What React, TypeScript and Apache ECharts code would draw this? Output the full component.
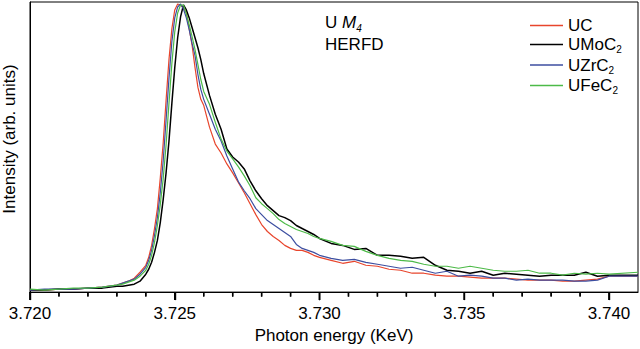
import React, { useEffect, useRef } from "react";
import * as echarts from "echarts";

// Photon energy grid (keV)
const energy = [
  3.72, 3.7205, 3.721, 3.7215, 3.722, 3.7225, 3.723, 3.7232, 3.7234, 3.7236, 3.7238,
  3.724, 3.7241, 3.7242, 3.7243, 3.7244, 3.7245, 3.7246, 3.7247, 3.7248, 3.7249, 3.725,
  3.7251, 3.7252, 3.7253, 3.7254, 3.7255, 3.7256, 3.7257, 3.7258, 3.7259, 3.726,
  3.7262, 3.7264, 3.7266, 3.7268, 3.727, 3.7272, 3.7274, 3.7276, 3.7278, 3.728,
  3.7282, 3.7284, 3.7286, 3.7288, 3.729, 3.7292, 3.7294, 3.7296, 3.7298, 3.73,
  3.7304, 3.7308, 3.7312, 3.7316, 3.732, 3.7324, 3.7328, 3.7332, 3.7336, 3.734,
  3.7344, 3.7348, 3.7352, 3.7356, 3.736, 3.7364, 3.7368, 3.7372, 3.7376, 3.738,
  3.7384, 3.7388, 3.7392, 3.7396, 3.74, 3.741,
];

// Intensities (arb. units)
const uc = [
  2, 2, 3, 3, 4, 5, 7, 9, 11, 14, 20,
  27, 35, 47, 64, 84, 115, 150, 193, 234, 265, 284,
  290, 289, 286, 281, 265, 248, 226, 206, 194, 188,
  166, 149, 140, 129, 120, 110, 100, 89, 78, 68,
  61, 56, 52, 47, 44, 42, 42, 40, 37, 35,
  32, 29, 31, 27, 26, 23, 22, 19, 19, 17,
  16, 16, 15, 14, 14, 14, 13, 12, 12, 12,
  11, 11, 12, 13, 16, 16,
];
const umoc2 = [
  2, 2, 3, 3, 4, 4, 6, 6, 7, 8, 11,
  18, 23, 30, 40, 52, 70, 93, 120, 152, 190, 226,
  256, 277, 289, 284, 276, 266, 256, 246, 234, 220,
  198, 179, 164, 144, 136, 131, 124, 112, 102, 94,
  87, 82, 77, 75, 72, 67, 64, 61, 58, 54,
  49, 47, 43, 44, 37, 37, 36, 34, 35, 27,
  22, 21, 19, 21, 17, 19, 18, 17, 16, 17,
  17, 17, 20, 16, 17, 17,
];
const uzrc2 = [
  2, 3, 3, 3, 4, 5, 7, 9, 11, 13, 18,
  25, 32, 42, 57, 75, 100, 132, 173, 215, 252, 276,
  287, 290, 285, 276, 264, 250, 238, 219, 204, 194,
  179, 164, 152, 137, 124, 111, 102, 94, 84, 78,
  72, 68, 64, 60, 56, 48, 44, 42, 40, 37,
  34, 32, 33, 30, 28, 26, 24, 25, 22, 19,
  21, 16, 17, 16, 14, 14, 12, 13, 12, 12,
  12, 11, 11, 12, 16, 16,
];
const ufec2 = [
  3, 2, 3, 4, 4, 5, 7, 8, 10, 12, 16,
  22, 28, 37, 50, 67, 88, 114, 148, 190, 230, 262,
  281, 289, 289, 280, 269, 257, 244, 229, 214, 202,
  189, 171, 154, 142, 134, 126, 117, 107, 95, 89,
  84, 79, 73, 69, 66, 63, 61, 59, 56, 54,
  51, 47, 46, 41, 37, 34, 32, 31, 28, 26,
  26, 24, 26, 24, 22, 21, 21, 22, 19, 19,
  17, 19, 18, 19, 18, 20,
];

const seriesNames = ["UC", "UMoC2", "UZrC2", "UFeC2"];
const seriesColors = ["#e8452c", "#000000", "#3c4ea0", "#4dba48"];
const seriesValues = [uc, umoc2, uzrc2, ufec2];

// x-axis tick positions (keV): every 0.001, labelled every 0.005
const tickValues = [
  3.72, 3.721, 3.722, 3.723, 3.724, 3.725, 3.726, 3.727, 3.728, 3.729, 3.73,
  3.731, 3.732, 3.733, 3.734, 3.735, 3.736, 3.737, 3.738, 3.739, 3.74,
];
const majorTicks = [3.72, 3.725, 3.73, 3.735, 3.74];

const FONT = "'Liberation Sans', Arial, Helvetica, sans-serif";

const isMajor = (v: number) => majorTicks.some((m) => Math.abs(m - v) < 1e-9);

export default function App() {
  const ref = useRef<HTMLDivElement>(null);
  useEffect(() => {
    if (!ref.current) return;
    const chart = echarts.init(ref.current, null, { renderer: "svg" });
    const rich = {
      b: { fontSize: 17, fontFamily: FONT, color: "#000", lineHeight: 20 },
      s: { fontSize: 10, fontFamily: FONT, color: "#000", lineHeight: 8, verticalAlign: "bottom" },
    };
    const textGraphics: any[] = [
      {
        type: "text",
        id: "ytitle",
        x: 9,
        y: 139,
        rotation: Math.PI / 2,
        style: {
          text: "Intensity (arb. units)",
          fontSize: 17,
          fontFamily: FONT,
          fill: "#000",
          align: "center",
          verticalAlign: "middle",
        },
      },
      {
        type: "text",
        id: "edge",
        left: 325,
        top: 14,
        style: {
          text: "{n|U }{i|M}{s|4}\n{n|HERFD}",
          rich: {
            n: { fontSize: 17, fontFamily: FONT, fill: "#000", lineHeight: 22 },
            i: { fontSize: 17, fontFamily: FONT, fontStyle: "italic", fill: "#000", lineHeight: 22 },
            s: { fontSize: 10, fontFamily: FONT, fontStyle: "italic", fill: "#000", lineHeight: 8, verticalAlign: "bottom" },
          },
        },
      },
    ];
    const tickSeries = {
      type: "custom",
      clip: false,
      z: 100,
      data: tickValues.map((v) => [v, isMajor(v) ? 1 : 0]),
      renderItem: (params: any, api: any) => {
        const p = api.coord([api.value(0), 0]);
        const len = api.value(1) ? 8 : 4.5;
        return {
          type: "line",
          shape: { x1: p[0], y1: p[1], x2: p[0], y2: p[1] + len },
          style: { stroke: "#000", lineWidth: 1.4 },
        };
      },
    };
    chart.setOption({
      animation: false,
      grid: {
        left: 30,
        right: 2,
        top: 2,
        bottom: 54,
        show: true,
        borderColor: "#000",
        borderWidth: 1,
      },
      legend: {
        orient: "vertical",
        left: 525,
        top: 12,
        icon: "rect",
        itemWidth: 33,
        itemHeight: 1.5,
        itemGap: 2,
        data: seriesNames,
        formatter: (name: string) =>
          name.endsWith("2") ? `{b|${name.slice(0, -1)}}{s|2}` : `{b|${name}}`,
        textStyle: { fontSize: 17, color: "#000", fontFamily: FONT, rich },
      },
      xAxis: {
        type: "value",
        min: 3.72,
        max: 3.741,
        interval: 0.005,
        axisLine: { show: true, onZero: false, lineStyle: { color: "#000", width: 1 } },
        axisTick: { show: true, length: 8, lineStyle: { color: "#000", width: 1.4 } },
        axisLabel: {
          showMaxLabel: false,
          formatter: (v: number) => v.toFixed(3),
          fontSize: 17,
          color: "#000",
          fontFamily: FONT,
          margin: 13,
        },
        splitLine: { show: false },
        name: "Photon energy (KeV)",
        nameLocation: "middle",
        nameGap: 34,
        nameTextStyle: { fontSize: 17, color: "#000", fontFamily: FONT },
      },
      yAxis: {
        type: "value",
        min: 0,
        max: 292,
        axisLine: { show: true, lineStyle: { color: "#000", width: 1 } },
        axisTick: { show: false },
        axisLabel: { show: false },
        splitLine: { show: false },
      },
      graphic: textGraphics,
      series: [
        ...seriesNames.map((name, k) => ({
          name,
          type: "line",
          symbol: "none",
          showSymbol: false,
          color: seriesColors[k],
          itemStyle: { color: seriesColors[k] },
          lineStyle: { color: seriesColors[k], width: k === 1 ? 1.5 : 1.2 },
          data: energy.map((e, i) => [e, seriesValues[k][i]]),
        })),
        tickSeries,
      ],
    });
    // Extra tick marks placed through the axis scale (convertToPixel), drawn on top.
    const tickGraphics = tickValues.map((v, i) => {
      const p = chart.convertToPixel({ xAxisIndex: 0, yAxisIndex: 0 }, [v, 0]) as number[];
      const len = isMajor(v) ? 8 : 4.5;
      return {
        type: "line",
        id: "tick" + i,
        z: 1000,
        shape: { x1: p[0], y1: p[1], x2: p[0], y2: p[1] + len },
        style: { stroke: "#000", lineWidth: 1.4 },
      };
    });
    chart.setOption({ graphic: [...textGraphics, ...tickGraphics] });
    return () => chart.dispose();
  }, []);
  return (
    <div
      ref={ref}
      style={{ position: "fixed", left: 0, top: 0, width: 640, height: 349, background: "#fff" }}
    />
  );
}
